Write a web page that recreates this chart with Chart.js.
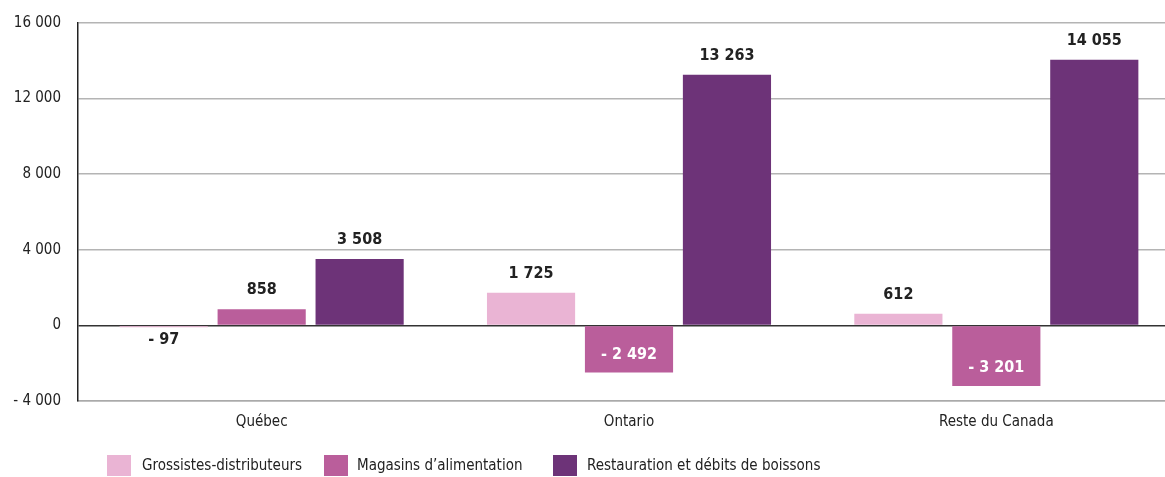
<!DOCTYPE html>
<html>
<head>
<meta charset="utf-8">
<script src="https://cdn.jsdelivr.net/npm/chart.js@4"></script>
<style>
  body { margin: 0; overflow: hidden; background: #fff; }
  #wrap { position: relative; width: 1180px; height: 477px; }
  #myChart { position: absolute; left: 0; top: -3px; }
  .lg { position: absolute; top: 455px; height: 21px; font: 15px 'Liberation Sans Narrow', 'DejaVu Sans Condensed', sans-serif; color: #222; line-height: 21px; white-space: nowrap; }
  .lg span { position: absolute; top: 0; width: 24px; height: 21px; }
</style>
</head>
<body>
<div id="wrap">
  <canvas id="myChart" width="1180" height="480"></canvas>
  <div id="legend"></div>
</div>
<script>
var regions = ['Québec', 'Ontario', 'Reste du Canada'];
var seriesNames = ['Grossistes-distributeurs', 'Magasins d\u2019alimentation', 'Restauration et débits de boissons'];
var grossistes = [-97, 1725, 612];
var magasins = [858, -2492, -3201];
var restauration = [3508, 13263, 14055];
var yTicks = [-4000, 0, 4000, 8000, 12000, 16000];

var colors = ['#eab4d4', '#ba5e9b', '#6d3378'];
var fontFam = "'Liberation Sans Narrow', 'DejaVu Sans Condensed', sans-serif";

function fmt(v) {
    var s = Math.abs(v).toString().replace(/\B(?=(\d{3})+(?!\d))/g, ' ');
    return v < 0 ? '- ' + s : s;
}

var valueLabels = {
    id: 'valueLabels',
    afterDatasetsDraw: function(chart) {
        var ctx = chart.ctx;
        ctx.save();
        ctx.font = 'bold 16px ' + fontFam;
        ctx.textAlign = 'center';
        ctx.textBaseline = 'middle';
        chart.data.datasets.forEach(function(ds, i) {
            var meta = chart.getDatasetMeta(i);
            meta.data.forEach(function(bar, j) {
                var v = ds.data[j];
                var h = Math.abs(bar.base - bar.y);
                if (v >= 0) {
                    ctx.fillStyle = '#222';
                    ctx.fillText(fmt(v), bar.x, bar.y - 19);
                } else if (h > 30) {
                    ctx.fillStyle = '#fff';
                    ctx.fillText(fmt(v), bar.x, bar.y - 18);
                } else {
                    ctx.fillStyle = '#222';
                    ctx.fillText(fmt(v), bar.x, bar.y + 13);
                }
            });
        });
        ctx.restore();
    }
};

var ctx = document.getElementById('myChart').getContext('2d');

var myChart = new Chart(ctx, {
    type: 'bar',
    data: {
        labels: regions,
        datasets: [
            { label: seriesNames[0], data: grossistes, backgroundColor: colors[0] },
            { label: seriesNames[1], data: magasins, backgroundColor: colors[1] },
            { label: seriesNames[2], data: restauration, backgroundColor: colors[2] }
        ]
    },
    options: {
        responsive: false,
        animation: false,
        events: [],
        categoryPercentage: 0.8,
        barPercentage: 0.9,
        layout: { padding: { top: 11, bottom: 46, left: 0, right: 0 } },
        plugins: {
            legend: { display: false },
            tooltip: { enabled: false }
        },
        scales: {
            x: {
                grid: { display: false, drawTicks: false },
                border: { color: '#aaa', width: 1.5 },
                ticks: { color: '#222', font: { family: fontFam, size: 15 }, padding: 12 },
                afterFit: function(axis) { axis.height = 30; }
            },
            y: {
                min: -4000,
                max: 16000,
                afterBuildTicks: function(axis) {
                    axis.ticks = yTicks.map(function(v) { return { value: v }; });
                },
                grid: {
                    drawTicks: false,
                    lineWidth: 1.5,
                    color: function(c) { return c.tick && c.tick.value === 0 ? '#333' : '#b4b4b4'; }
                },
                border: { color: '#222', width: 1.5 },
                ticks: {
                    color: '#222',
                    font: { family: fontFam, size: 15 },
                    padding: 17,
                    callback: function(v) { return fmt(v); }
                },
                afterFit: function(axis) { axis.width = 78; }
            }
        }
    },
    plugins: [valueLabels]
});

var legendPos = [[107, 142], [324, 357], [553, 587]];
var html = [];
for (var i = 0; i < seriesNames.length; i++) {
    html.push('<div class="lg" style="left:' + legendPos[i][0] + 'px;width:400px">');
    html.push('<span style="left:0;background:' + colors[i] + '"></span>');
    html.push('<div style="position:absolute;left:' + (legendPos[i][1] - legendPos[i][0]) + 'px">' + seriesNames[i] + '</div>');
    html.push('</div>');
}
document.getElementById('legend').innerHTML = html.join('');
</script>
</body>
</html>
